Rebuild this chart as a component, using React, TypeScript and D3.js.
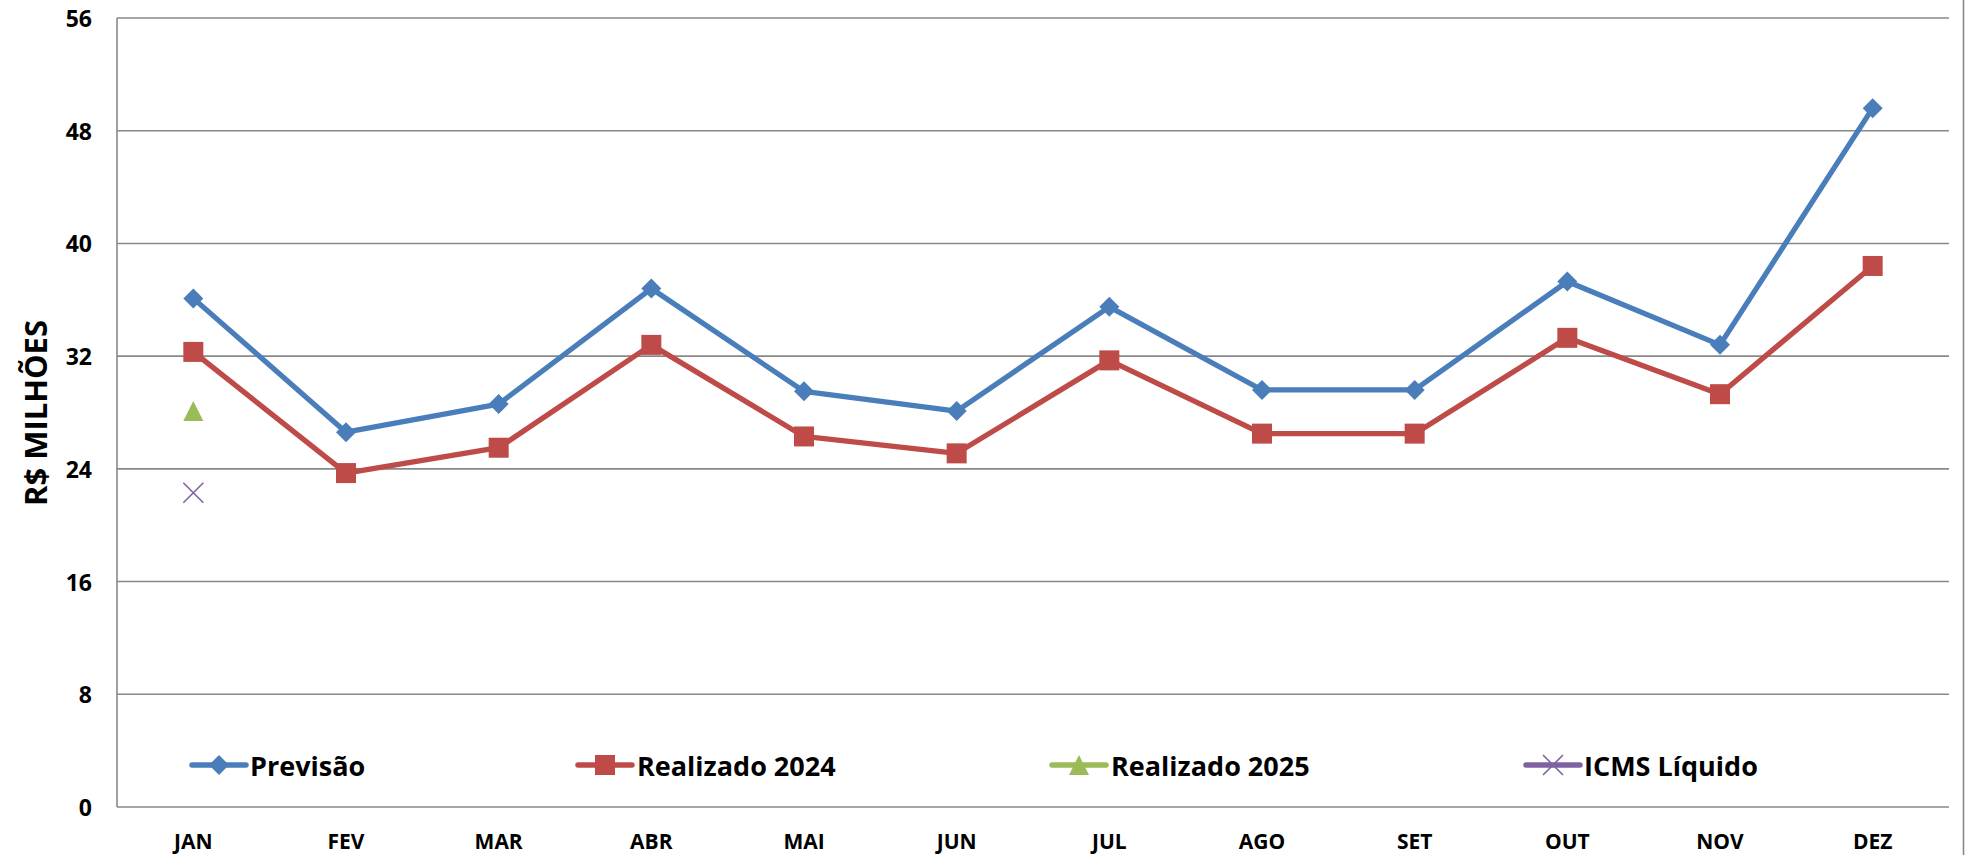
import React from "react";
import * as d3 from "d3";

const months = ["JAN", "FEV", "MAR", "ABR", "MAI", "JUN", "JUL", "AGO", "SET", "OUT", "NOV", "DEZ"];
const previsao = [36.1, 26.6, 28.6, 36.8, 29.5, 28.1, 35.5, 29.6, 29.6, 37.3, 32.8, 49.6];
const realizado2024 = [32.3, 23.7, 25.5, 32.8, 26.3, 25.1, 31.7, 26.5, 26.5, 33.3, 29.3, 38.4];
const realizado2025 = [28.1];
const icmsLiquido = [22.3];
const yTicks = [0, 8, 16, 24, 32, 40, 48, 56];
const legendLabels = ["Previsão", "Realizado 2024", "Realizado 2025", "ICMS Líquido"];

const W = 1967;
const H = 855;
const left = 117;
const right = 1949;
const top = 18;
const bottom = 807;

const BLUE = "#4A7EBB";
const RED = "#BE4B48";
const GREEN = "#9BBB59";
const PURPLE = "#7F62A1";
const GRID = "#888888";
const FONT = "'Open Sans', 'Liberation Sans', sans-serif";

function Diamond({ x, y, s }: { x: number; y: number; s: number }) {
  return <path d={`M${x},${y - s}L${x + s},${y}L${x},${y + s}L${x - s},${y}Z`} fill={BLUE} />;
}
function Square({ x, y, s }: { x: number; y: number; s: number }) {
  return <rect x={x - s} y={y - s} width={2 * s} height={2 * s} fill={RED} />;
}
function Triangle({ x, y, s }: { x: number; y: number; s: number }) {
  return <path d={`M${x},${y - s}L${x + s},${y + s}L${x - s},${y + s}Z`} fill={GREEN} />;
}
function Cross({ x, y, s }: { x: number; y: number; s: number }) {
  return (
    <path
      d={`M${x - s},${y - s}L${x + s},${y + s}M${x - s},${y + s}L${x + s},${y - s}`}
      stroke={PURPLE}
      strokeWidth={1.6}
      fill="none"
    />
  );
}

export default function App() {
  const x = d3.scaleBand<string>().domain(months).range([left, right]);
  const cx = (m: string) => (x(m) as number) + x.bandwidth() / 2;
  const y = d3.scaleLinear().domain([0, 56]).range([bottom, top]);

  const line = d3
    .line<number>()
    .x((_, i) => cx(months[i]))
    .y((d) => y(d));

  const legendItems = [
    { lineX: 192, markX: 219, textX: 250, color: BLUE, kind: "d" },
    { lineX: 578, markX: 605, textX: 637, color: RED, kind: "s" },
    { lineX: 1052, markX: 1079, textX: 1111, color: GREEN, kind: "t" },
    { lineX: 1526, markX: 1553, textX: 1584, color: PURPLE, kind: "x" },
  ];
  const legendY = 765;

  return (
    <svg
      width={W}
      height={H}
      style={{ position: "absolute", left: 0, top: 0, background: "#fff" }}
      fontFamily={FONT}
    >
      <rect x={0} y={0} width={W} height={H} fill="#fff" />
      {/* gridlines */}
      {yTicks.map((t) => (
        <line key={t} x1={left} x2={right} y1={y(t)} y2={y(t)} stroke={GRID} strokeWidth={1.6} />
      ))}
      <line x1={left} x2={left} y1={top} y2={bottom} stroke={GRID} strokeWidth={1.6} />
      <line x1={1963.5} x2={1963.5} y1={0} y2={H} stroke={GRID} strokeWidth={1.6} />

      {/* y tick labels */}
      {yTicks.map((t) => (
        <text
          key={t}
          x={92}
          y={y(t)}
          textAnchor="end"
          dominantBaseline="central"
          fontSize={23}
          fontWeight="bold"
          fill="#000"
        >
          {t}
        </text>
      ))}

      {/* x labels */}
      {months.map((m) => (
        <text
          key={m}
          x={cx(m)}
          y={841}
          textAnchor="middle"
          dominantBaseline="central"
          fontSize={21}
          fontWeight="bold"
          fill="#000"
        >
          {m}
        </text>
      ))}

      {/* y axis title */}
      <text
        transform={`translate(35,413) rotate(-90)`}
        textAnchor="middle"
        dominantBaseline="central"
        fontSize={31}
        fontWeight="bold"
        fill="#000"
      >
        R$ MILHÕES
      </text>

      {/* series */}
      <path d={line(previsao) || ""} fill="none" stroke={BLUE} strokeWidth={5.3} strokeLinejoin="round" />
      <path d={line(realizado2024) || ""} fill="none" stroke={RED} strokeWidth={5.3} strokeLinejoin="round" />
      {previsao.map((v, i) => (
        <Diamond key={"p" + i} x={cx(months[i])} y={y(v)} s={10} />
      ))}
      {realizado2024.map((v, i) => (
        <Square key={"r" + i} x={cx(months[i])} y={y(v)} s={10} />
      ))}
      {realizado2025.map((v, i) => (
        <Triangle key={"g" + i} x={cx(months[i])} y={y(v)} s={10} />
      ))}
      {icmsLiquido.map((v, i) => (
        <Cross key={"c" + i} x={cx(months[i])} y={y(v)} s={10} />
      ))}

      {/* legend */}
      {legendItems.map((it, i) => (
        <g key={i}>
          <line
            x1={it.lineX}
            x2={it.markX * 2 - it.lineX}
            y1={legendY}
            y2={legendY}
            stroke={it.color}
            strokeWidth={5.5}
            strokeLinecap="round"
          />
          {it.kind === "d" && <Diamond x={it.markX} y={legendY} s={10} />}
          {it.kind === "s" && <Square x={it.markX} y={legendY} s={10} />}
          {it.kind === "t" && <Triangle x={it.markX} y={legendY} s={10} />}
          {it.kind === "x" && <Cross x={it.markX} y={legendY} s={10} />}
          <text
            x={it.textX}
            y={legendY}
            dominantBaseline="central"
            fontSize={27}
            fontWeight="bold"
            fill="#000"
          >
            {legendLabels[i]}
          </text>
        </g>
      ))}
    </svg>
  );
}
